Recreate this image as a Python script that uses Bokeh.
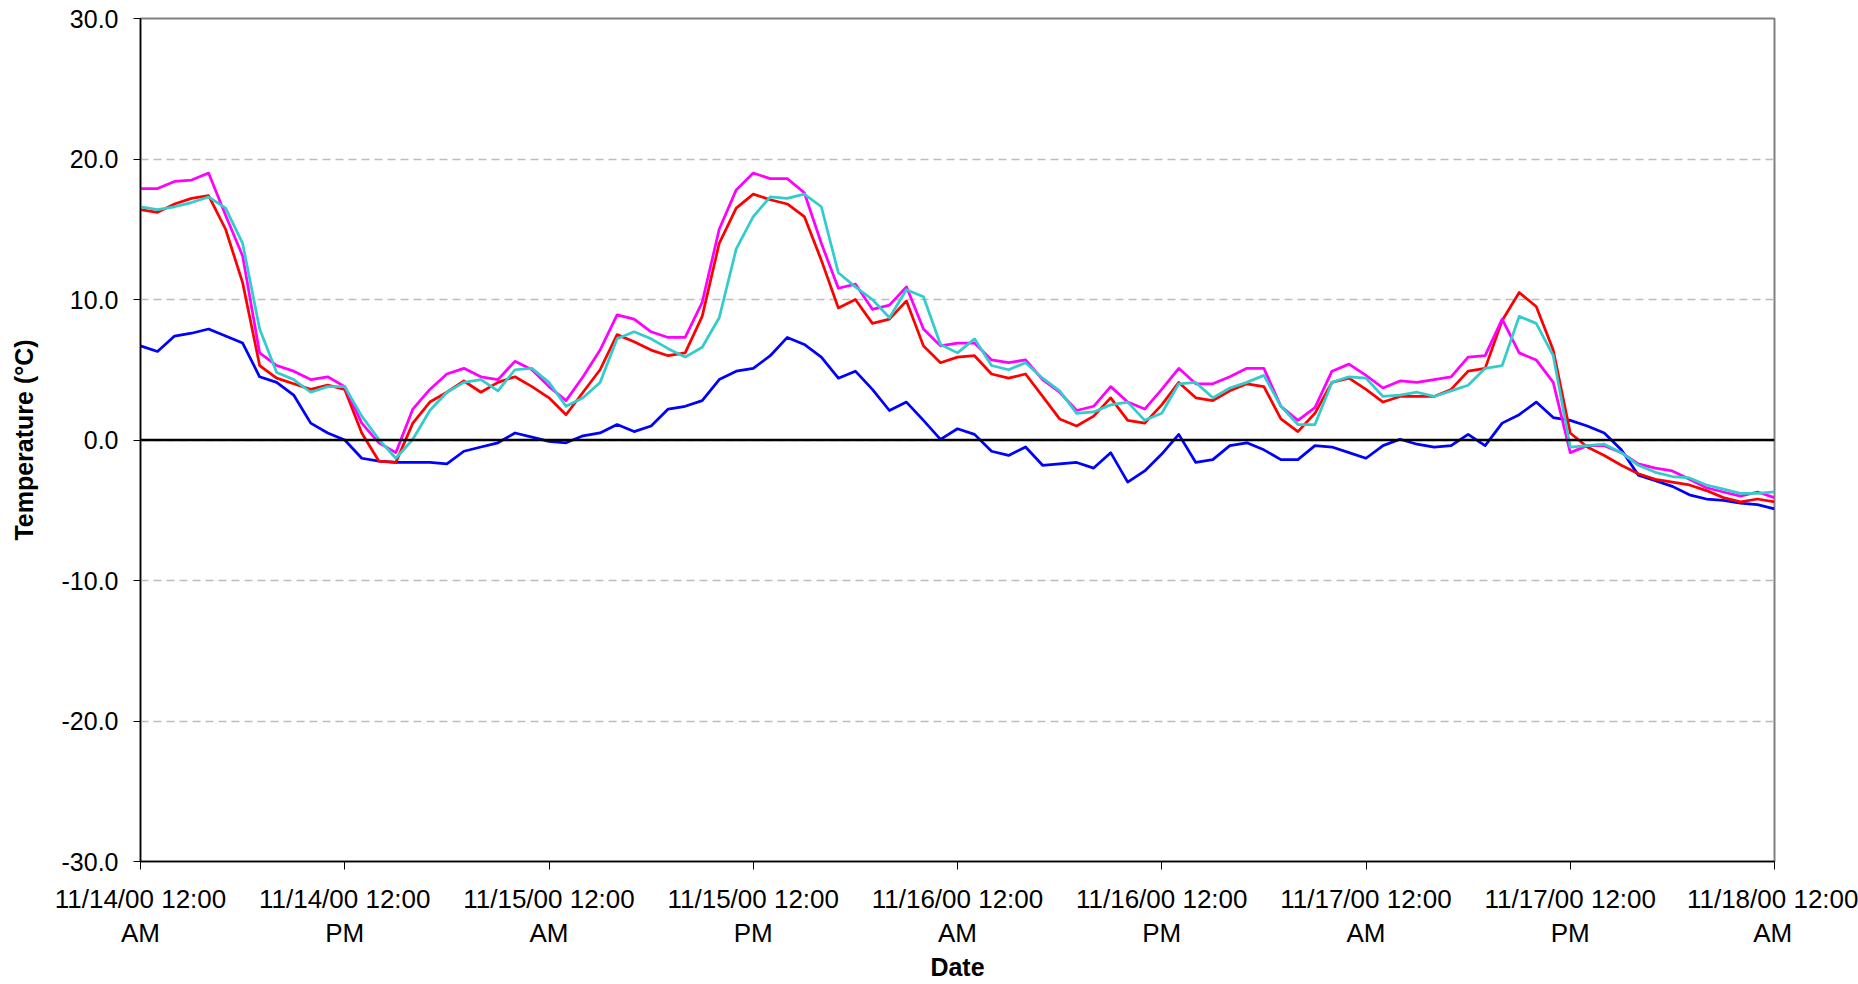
from bokeh.plotting import figure
from bokeh.models import Range1d, FixedTicker, NumeralTickFormatter, Span
from bokeh.embed import file_html
from bokeh.resources import INLINE

# hours since 11/14/00 12:00 AM
hours = list(range(97))

blue = [6.7, 6.3, 7.4, 7.6, 7.9, 7.4, 6.9, 4.5, 4.1, 3.2, 1.2, 0.5, 0.0, -1.3, -1.5, -1.6, -1.6, -1.6, -1.7, -0.8, -0.5, -0.2, 0.5, 0.2, -0.1,
        -0.2, 0.3, 0.5, 1.1, 0.6, 1.0, 2.2, 2.4, 2.8, 4.3, 4.9, 5.1, 6.0, 7.3, 6.8, 5.9, 4.4, 4.9, 3.6, 2.1, 2.7, 1.4, 0.05, 0.8,
        0.4, -0.8, -1.1, -0.5, -1.8, -1.7, -1.6, -2.0, -0.9, -3.0, -2.2, -1.0, 0.4, -1.6, -1.4, -0.4, -0.2, -0.7, -1.4, -1.4, -0.4, -0.5, -0.9, -1.3,
        -0.4, 0.05, -0.3, -0.5, -0.4, 0.4, -0.4, 1.2, 1.8, 2.7, 1.6, 1.4, 1.0, 0.5, -0.7, -2.5, -2.9, -3.3, -3.9, -4.2, -4.3, -4.5, -4.6, -4.9]

red = [16.4, 16.2, 16.8, 17.2, 17.4, 15.0, 11.2, 5.3, 4.4, 4.0, 3.6, 3.9, 3.6, 0.5, -1.5, -1.6, 1.2, 2.7, 3.4, 4.2, 3.4, 4.1, 4.5, 3.8, 3.0,
       1.8, 3.4, 5.0, 7.5, 7.0, 6.4, 6.0, 6.2, 8.8, 14.0, 16.5, 17.5, 17.1, 16.8, 15.9, 12.8, 9.4, 10.0, 8.3, 8.6, 9.9, 6.7, 5.5, 5.9,
       6.0, 4.7, 4.4, 4.7, 3.1, 1.5, 1.0, 1.7, 3.0, 1.4, 1.2, 2.5, 4.1, 3.0, 2.8, 3.5, 4.0, 3.8, 1.5, 0.6, 1.9, 4.1, 4.4, 3.6,
       2.7, 3.1, 3.1, 3.1, 3.6, 4.9, 5.1, 8.5, 10.5, 9.5, 6.4, 0.5, -0.5, -1.1, -1.8, -2.4, -2.8, -3.0, -3.2, -3.6, -4.1, -4.4, -4.2, -4.4]

magenta = [17.9, 17.9, 18.4, 18.5, 19.0, 16.0, 13.1, 6.2, 5.3, 4.9, 4.3, 4.5, 3.8, 1.2, -0.2, -0.9, 2.2, 3.6, 4.7, 5.1, 4.5, 4.3, 5.6, 5.0, 3.8,
           2.8, 4.5, 6.4, 8.9, 8.6, 7.7, 7.3, 7.3, 9.8, 15.0, 17.8, 19.0, 18.6, 18.6, 17.6, 14.0, 10.8, 11.1, 9.3, 9.6, 10.9, 7.9, 6.7, 6.9,
           6.9, 5.7, 5.5, 5.7, 4.3, 3.4, 2.1, 2.4, 3.8, 2.7, 2.2, 3.6, 5.1, 4.0, 4.0, 4.5, 5.1, 5.1, 2.4, 1.4, 2.3, 4.9, 5.4, 4.6,
           3.7, 4.2, 4.1, 4.3, 4.5, 5.9, 6.0, 8.6, 6.2, 5.7, 4.1, -0.9, -0.4, -0.4, -0.9, -1.7, -2.0, -2.2, -2.8, -3.4, -3.7, -4.0, -3.7, -4.1]

cyan = [16.6, 16.4, 16.6, 16.9, 17.3, 16.5, 14.0, 7.9, 4.8, 4.3, 3.4, 3.8, 3.8, 1.7, 0.05, -1.3, 0.05, 2.1, 3.4, 4.1, 4.3, 3.5, 5.0, 5.1, 4.1,
        2.4, 3.0, 4.1, 7.2, 7.7, 7.2, 6.5, 5.9, 6.6, 8.7, 13.6, 15.9, 17.3, 17.2, 17.5, 16.6, 11.9, 10.9, 10.0, 8.7, 10.7, 10.2, 6.8, 6.2,
        7.2, 5.3, 5.0, 5.5, 4.4, 3.5, 1.9, 2.0, 2.5, 2.7, 1.4, 1.9, 4.0, 4.1, 3.0, 3.7, 4.1, 4.6, 2.4, 1.1, 1.1, 4.1, 4.5, 4.4,
        3.1, 3.2, 3.4, 3.1, 3.5, 3.9, 5.1, 5.3, 8.8, 8.3, 6.0, -0.5, -0.4, -0.3, -0.9, -1.8, -2.3, -2.6, -2.7, -3.2, -3.5, -3.8, -3.8, -3.7]

x_ticks = [0, 12, 24, 36, 48, 60, 72, 84, 96]
x_tick_labels = ["11/14/00 12:00\nAM", "11/14/00 12:00\nPM", "11/15/00 12:00\nAM", "11/15/00 12:00\nPM",
                 "11/16/00 12:00\nAM", "11/16/00 12:00\nPM", "11/17/00 12:00\nAM", "11/17/00 12:00\nPM",
                 "11/18/00 12:00\nAM"]
y_ticks = [-30, -20, -10, 0, 10, 20, 30]

FONT = "Liberation Sans"

p = figure(width=1858, height=984, output_backend="svg", toolbar_location=None,
           x_range=Range1d(0, 96), y_range=Range1d(-30, 30),
           min_border_left=140, min_border_right=84, min_border_top=18, min_border_bottom=121,
           background_fill_color="white", border_fill_color="white")

p.outline_line_color = "#808080"
p.outline_line_width = 2

p.xgrid.visible = False
p.ygrid.ticker = FixedTicker(ticks=y_ticks)
p.ygrid.grid_line_color = "#BDBDBD"
p.ygrid.grid_line_dash = "8 5"
p.ygrid.grid_line_width = 1.5

xa = p.xaxis[0]
xa.ticker = FixedTicker(ticks=x_ticks)
xa.major_label_overrides = {t: l for t, l in zip(x_ticks, x_tick_labels)}
xa.minor_tick_line_color = None
xa.major_tick_in = 0
xa.major_tick_out = 8
xa.major_label_standoff = 14
xa.axis_line_color = "black"
xa.axis_line_width = 1.5
xa.major_tick_line_color = "black"
xa.major_label_text_font = FONT
xa.major_label_text_font_size = "26px"
xa.major_label_text_line_height = 1.15
xa.major_label_text_color = "black"
xa.axis_label = "Date"
xa.axis_label_text_font = FONT
xa.axis_label_text_font_style = "bold"
xa.axis_label_text_font_size = "25px"
xa.axis_label_text_color = "black"
xa.axis_label_standoff = 2

ya = p.yaxis[0]
ya.ticker = FixedTicker(ticks=y_ticks)
ya.formatter = NumeralTickFormatter(format="0.0")
ya.minor_tick_line_color = None
ya.major_tick_in = 0
ya.major_tick_out = 7
ya.major_label_standoff = 15
ya.axis_line_color = "black"
ya.axis_line_width = 1.5
ya.major_tick_line_color = "black"
ya.major_label_text_font = FONT
ya.major_label_text_font_size = "25px"
ya.major_label_text_color = "black"
ya.axis_label = "Temperature (°C)"
ya.axis_label_text_font = FONT
ya.axis_label_text_font_style = "bold"
ya.axis_label_text_font_size = "25px"
ya.axis_label_text_color = "black"
ya.axis_label_standoff = 21

p.add_layout(Span(location=0, dimension="width", line_color="black", line_width=2.5))

for series, color in [(blue, "#0000FF"), (red, "#FF0000"), (magenta, "#FF00FF"), (cyan, "#33CCCC")]:
    p.line(hours, series, line_color=color, line_width=2.75, line_join="round")

open("out.html", "w").write(file_html(p, INLINE))
